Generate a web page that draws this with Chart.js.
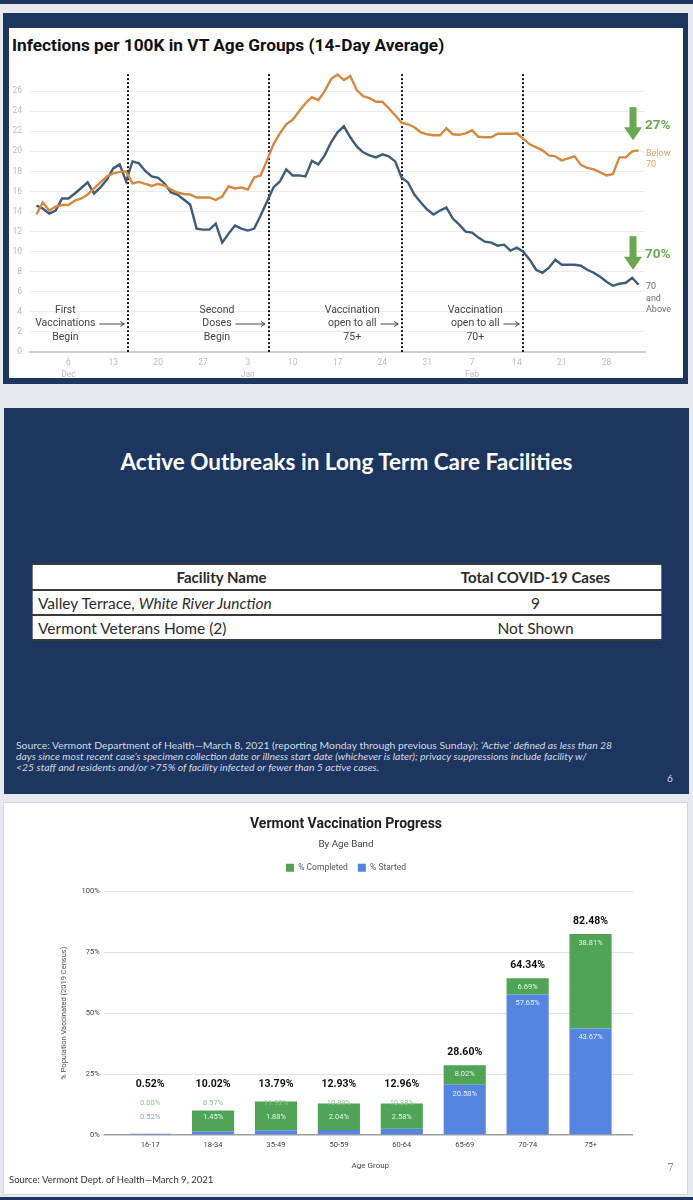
<!DOCTYPE html>
<html>
<head>
<meta charset="utf-8">
<script src="https://cdn.jsdelivr.net/npm/chart.js@4.4.0/dist/chart.umd.min.js"></script>
<style>
  html, body { margin: 0; padding: 0; }
  body { width: 693px; height: 1200px; background: #e7e9ee; position: relative; overflow: hidden; font-family: Roboto, "Noto Sans", sans-serif; }
  .navy { background: #1c365f; }
  #stripTop { position: absolute; left: 0; top: 0; width: 693px; height: 4px; }
  #stripBottom { position: absolute; left: 0; top: 1197px; width: 693px; height: 3px; }

  /* slide 1 - infections line chart */
  #panel1 { position: absolute; left: 3px; top: 13px; width: 685px; height: 371px; }
  #panel1 .inner { position: absolute; left: 6px; top: 15px; width: 674px; height: 350px; background: #fff; }
  #infTitle { position: absolute; left: 3px; top: 6px; font: bold 17.3px Roboto, sans-serif; color: #111; line-height: 22px; white-space: nowrap; }
  #infChart { position: absolute; left: 0; top: 30px; }

  /* slide 2 - outbreak table */
  #panel2 { position: absolute; left: 4px; top: 408px; width: 685px; height: 386px; color: #fff; font-family: Lato, "Open Sans", sans-serif; }
  #p2Title { position: absolute; left: 0; width: 685px; top: 41px; text-align: center; font-weight: bold; font-size: 22.5px; line-height: 26px; }
  #ltc { position: absolute; left: 28px; top: 155px; width: 630px; border-collapse: collapse; background: #fff; color: #2b2b2b; font-size: 15.5px; }
  #ltc th, #ltc td { border-top: 2px solid #3a3a3a; border-bottom: 2px solid #3a3a3a; padding: 0; height: 23px; }
  #ltc th { font-weight: bold; font-size: 15px; text-align: center; height: 24px; }
  #ltc tr > :first-child { border-left: 1px solid #777; width: 372px; }
  #ltc tr > :last-child { border-right: 1px solid #777; text-align: center; }
  #ltc td.name { text-align: left; padding-left: 5px; }
  #p2Source { position: absolute; left: 12px; top: 332px; font-size: 10.4px; line-height: 11px; color: #d3d9e4; white-space: nowrap; }
  #p2Num { position: absolute; left: 663px; top: 364px; font-size: 10px; color: #d3d9e4; }

  /* slide 3 - vaccination bars */
  #panel3 { position: absolute; left: 3px; top: 802px; width: 683px; height: 391px; background: #fff; border: 1px solid #d6d8dc; }
  #vaxChart { position: absolute; left: 5px; top: 3px; }
  #p3Source { position: absolute; left: 5px; top: 371px; font: 9.5px Lato, sans-serif; color: #333; white-space: nowrap; }
  #p3Num { position: absolute; left: 663px; top: 358px; font: 11px "DejaVu Serif", serif; color: #888; }
</style>
</head>
<body>
<div id="stripTop" class="navy"></div>

<div id="panel1" class="navy">
  <div class="inner">
    <div id="infTitle">Infections per 100K in VT Age Groups (14-Day Average)</div>
    <canvas id="infChart" width="674" height="324"></canvas>
  </div>
</div>

<div id="panel2" class="navy">
  <div id="p2Title">Active Outbreaks in Long Term Care Facilities</div>
  <table id="ltc">
    <tr><th>Facility Name</th><th>Total COVID-19 Cases</th></tr>
    <tr><td class="name">Valley Terrace, <i>White River Junction</i></td><td>9</td></tr>
    <tr><td class="name">Vermont Veterans Home (2)</td><td>Not Shown</td></tr>
  </table>
  <div id="p2Source">Source: Vermont Department of Health—March 8, 2021 (reporting Monday through previous Sunday); <i>‘Active’ defined as less than 28</i><br><i>days since most recent case’s specimen collection date or illness start date (whichever is later); privacy suppressions include facility w/</i><br><i>&lt;25 staff and residents and/or &gt;75% of facility infected or fewer than 5 active cases.</i></div>
  <div id="p2Num">6</div>
</div>

<div id="panel3">
  <canvas id="vaxChart" width="674" height="369"></canvas>
  <div id="p3Source">Source: Vermont Dept. of Health—March 9, 2021</div>
  <div id="p3Num">7</div>
</div>

<div id="stripBottom" class="navy"></div>

<script>
// ---- Infections per 100K, daily from Dec 1 2020 (index 0) to Mar 5 2021 (index 94)
const below70 = [
  13.7, 14.9, 14.1, 14.5, 14.65, 14.65, 15.1, 15.3, 15.7, 16.3,
  16.9, 17.5, 17.8, 17.95, 18.0, 16.8, 16.95, 16.75, 16.55, 16.75,
  16.6, 16.2, 15.9, 15.75, 15.7, 15.4, 15.4, 15.4, 15.15, 15.5,
  16.5, 16.3, 16.4, 16.2, 17.4, 17.6, 19.1, 20.7, 21.8, 22.7,
  23.15, 24.0, 24.8, 25.4, 25.1, 26.0, 27.2, 27.65, 27.1, 27.5,
  26.1, 25.5, 25.3, 24.95, 24.95, 24.3, 23.6, 22.85, 22.7, 22.4,
  21.9, 21.7, 21.6, 21.6, 22.3, 21.7, 21.65, 21.8, 22.1, 21.45,
  21.4, 21.4, 21.75, 21.75, 21.75, 21.8, 21.25, 20.7, 20.4, 20.1,
  19.6, 19.5, 19.1, 19.3, 19.5, 18.65, 18.35, 18.2, 17.9, 17.6,
  17.75, 19.4, 19.4, 20.0, 20.1
];
const above70 = [
  14.6, 14.3, 13.8, 14.1, 15.3, 15.3, 15.8, 16.35, 16.9, 15.8,
  16.4, 17.2, 18.3, 18.7, 17.0, 19.0, 18.8, 18.05, 17.5, 17.35,
  16.8, 15.9, 15.7, 15.2, 14.7, 12.3, 12.2, 12.2, 12.8, 10.9,
  11.8, 12.6, 12.3, 12.1, 12.3, 13.6, 15.0, 16.4, 17.0, 18.2,
  17.6, 17.6, 17.5, 19.05, 18.7, 19.6, 20.9, 21.9, 22.5, 21.4,
  20.5, 19.9, 19.6, 19.4, 19.7, 19.5, 19.0, 17.4, 16.9, 15.7,
  14.9, 14.2, 13.7, 14.1, 14.4, 13.3, 12.7, 12.0, 11.9, 11.4,
  11.0, 10.9, 10.6, 10.7, 10.1, 10.4, 10.0, 9.2, 8.2, 7.9,
  8.4, 9.2, 8.7, 8.7, 8.7, 8.6, 8.2, 7.9, 7.5, 7.0,
  6.6, 6.8, 6.9, 7.4, 6.7
];
// Sundays shown on the x axis (day index) and their labels
const tickDay = [5, 12, 19, 26, 33, 40, 47, 54, 61, 68, 75, 82, 89];
const tickText = [['6', 'Dec'], ['13'], ['20'], ['27'], ['3', 'Jan'], ['10'], ['17'], ['24'], ['31'], ['7', 'Feb'], ['14'], ['21'], ['28']];
// vaccination milestones (day index) and their notes
const eventDays = [14.35, 36.3, 57.1, 76.0];
const eventText = [
  ['First', 'Vaccinations', 'Begin'],
  ['Second', 'Doses', 'Begin'],
  ['Vaccination', 'open to all', '75+'],
  ['Vaccination', 'open to all', '70+']
];
const dropText = ['27%', '70%'];

// ---- Vermont vaccination progress by age band
const ageGroups = ['16-17', '18-34', '35-49', '50-59', '60-64', '65-69', '70-74', '75+'];
const pctStarted = [0.52, 1.45, 1.88, 2.04, 2.58, 20.58, 57.65, 43.67];
const pctCompleted = [0.00, 8.57, 11.92, 10.89, 10.38, 8.02, 6.69, 38.81];
const pctTotal = [0.52, 10.02, 13.79, 12.93, 12.96, 28.60, 64.34, 82.48];

const ORANGE = '#d4893f';
const SLATE = '#3e5c78';
const ARROW_GREEN = '#6aa84f';

// notes, milestone lines and end labels for the line chart
const lineNotes = {
    id: 'lineNotes',
    beforeDatasetsDraw(chart) {
        const { ctx, chartArea, scales: { x, y } } = chart;
        ctx.save();
        ctx.strokeStyle = '#1a1a1a';
        ctx.lineWidth = 2;
        ctx.setLineDash([2, 2]);
        eventDays.forEach(d => {
            const px = Math.round(x.getPixelForValue(d));
            ctx.beginPath();
            ctx.moveTo(px, y.getPixelForValue(27.7));
            ctx.lineTo(px, chartArea.bottom);
            ctx.stroke();
        });
        ctx.restore();
    },
    afterDatasetsDraw(chart) {
        const { ctx, chartArea, scales: { x, y } } = chart;
        const shift = [-63, -52, -50, -48];
        ctx.save();
        ctx.font = '10.5px Roboto';
        ctx.fillStyle = '#444';
        ctx.textAlign = 'center';
        ctx.textBaseline = 'middle';
        eventDays.forEach((d, i) => {
            const lx = x.getPixelForValue(d);
            const cx = lx + shift[i];
            const rows = [chartArea.bottom - 42, chartArea.bottom - 28.5, chartArea.bottom - 15];
            eventText[i].forEach((t, r) => ctx.fillText(t, cx, rows[r]));
            // arrow pointing to the milestone line
            const start = cx + ctx.measureText(eventText[i][1]).width / 2 + 4;
            const end = lx - 4;
            const ay = rows[1] + 0.5;
            ctx.strokeStyle = '#444';
            ctx.lineWidth = 1;
            ctx.beginPath();
            ctx.moveTo(start, ay);
            ctx.lineTo(end, ay);
            ctx.moveTo(end - 4, ay - 2.5);
            ctx.lineTo(end, ay);
            ctx.lineTo(end - 4, ay + 2.5);
            ctx.stroke();
        });

        // green drop arrows
        const ax = chartArea.right - 12;
        const drops = [[24.4, 22.4, 21.1, 22.6], [11.55, 9.5, 8.2, 9.7]];
        drops.forEach((a, i) => {
            const top = y.getPixelForValue(a[0]);
            const base = y.getPixelForValue(a[1]);
            const tip = y.getPixelForValue(a[2]);
            ctx.fillStyle = ARROW_GREEN;
            ctx.fillRect(ax - 3.5, top, 7, base - top + 1);
            ctx.beginPath();
            ctx.moveTo(ax - 9, base);
            ctx.lineTo(ax + 9, base);
            ctx.lineTo(ax, tip);
            ctx.closePath();
            ctx.fill();
            ctx.font = 'bold 13.5px Roboto';
            ctx.textAlign = 'left';
            ctx.fillText(dropText[i], chartArea.right, y.getPixelForValue(a[3]));
        });

        // series end labels
        ctx.font = '9px Roboto';
        ctx.fillStyle = '#dca273';
        ctx.fillText('Below', chartArea.right + 1, y.getPixelForValue(19.8));
        ctx.fillText('70', chartArea.right + 1, y.getPixelForValue(18.7));
        ctx.fillStyle = '#5f6f85';
        ctx.fillText('70', chartArea.right + 1, y.getPixelForValue(6.5));
        ctx.fillText('and', chartArea.right + 1, y.getPixelForValue(5.35));
        ctx.fillText('Above', chartArea.right + 1, y.getPixelForValue(4.2));
        ctx.restore();
    }
};

new Chart(document.getElementById('infChart'), {
    type: 'line',
    data: {
        datasets: [
            {
                label: 'Below 70',
                data: below70.map((v, i) => ({ x: i, y: v })),
                borderColor: ORANGE,
                borderWidth: 2.4,
                pointRadius: 0,
                tension: 0
            },
            {
                label: '70 and Above',
                data: above70.map((v, i) => ({ x: i, y: v })),
                borderColor: SLATE,
                borderWidth: 2.4,
                pointRadius: 0,
                tension: 0
            }
        ]
    },
    options: {
        responsive: false,
        animation: false,
        layout: { padding: { top: 8.4, right: 38, left: 0, bottom: 0 } },
        plugins: {
            legend: { display: false },
            tooltip: { enabled: false }
        },
        scales: {
            x: {
                type: 'linear',
                min: -1,
                max: 95,
                afterBuildTicks: s => { s.ticks = tickDay.map(v => ({ value: v })); },
                afterFit: s => { s.height = 30; },
                grid: { display: true, drawOnChartArea: false, drawTicks: false },
                border: { color: '#cfcfcf', width: 2 },
                ticks: {
                    padding: 5,
                    autoSkip: false,
                    maxRotation: 0,
                    color: '#bdbdbd',
                    font: { family: 'Roboto', size: 8.5, lineHeight: 1.4 },
                    callback: v => tickText[tickDay.indexOf(v)]
                }
            },
            y: {
                min: 0,
                max: 28,
                afterFit: s => { s.width = 21; },
                grid: {
                    drawTicks: false,
                    color: c => c.tick.value === 28 ? 'rgba(0,0,0,0)' : '#ececec'
                },
                border: { display: false },
                ticks: {
                    stepSize: 2,
                    padding: 8,
                    color: '#bdbdbd',
                    font: { family: 'Roboto', size: 8.5 },
                    callback: v => v === 28 ? '' : v
                }
            }
        }
    },
    plugins: [lineNotes]
});

// segment and total labels for the stacked bars
const barLabels = {
    id: 'barLabels',
    afterDatasetsDraw(chart) {
        const { ctx } = chart;
        const started = chart.getDatasetMeta(0).data;
        const completed = chart.getDatasetMeta(1).data;
        ctx.save();
        ctx.textAlign = 'center';
        ctx.textBaseline = 'middle';
        started.forEach((sBar, i) => {
            const cBar = completed[i];
            const base = sBar.base;
            const top = Math.min(sBar.y, cBar.y);
            const small = (sBar.base - sBar.y) < 12;
            let sy, cy, ty;
            if (small) {
                sy = base - 17;
                cy = base - 31;
                ty = base - 50;
            } else {
                sy = sBar.y + 9;
                cy = cBar.y + 9;
                ty = top - 12.5;
            }
            ctx.font = '7.5px Roboto';
            ctx.fillStyle = sy > top + 3 ? 'rgba(255,255,255,0.88)' : '#84a3e6';
            ctx.fillText(pctStarted[i].toFixed(2) + '%', sBar.x, sy);
            ctx.fillStyle = cy > top + 3 ? 'rgba(255,255,255,0.88)' : '#8cc791';
            ctx.fillText(pctCompleted[i].toFixed(2) + '%', cBar.x, cy);
            ctx.font = 'bold 10.5px Roboto';
            ctx.fillStyle = '#111';
            ctx.fillText(pctTotal[i].toFixed(2) + '%', sBar.x, ty);
        });
        ctx.restore();
    }
};

new Chart(document.getElementById('vaxChart'), {
    type: 'bar',
    data: {
        labels: ageGroups,
        datasets: [
            {
                label: '% Started',
                data: pctStarted,
                backgroundColor: '#5585e0',
                barPercentage: 0.67,
                categoryPercentage: 1
            },
            {
                label: '% Completed',
                data: pctCompleted,
                backgroundColor: '#50a456',
                barPercentage: 0.67,
                categoryPercentage: 1
            }
        ]
    },
    options: {
        responsive: false,
        animation: false,
        layout: { padding: { left: 0, right: 0, top: 0, bottom: 0 } },
        plugins: {
            title: {
                display: true,
                text: 'Vermont Vaccination Progress',
                color: '#222',
                font: { family: 'Roboto', size: 14, weight: 'bold' },
                padding: { top: 10, bottom: 5.5 }
            },
            subtitle: {
                display: true,
                text: 'By Age Band',
                color: '#444',
                font: { family: 'Roboto', size: 9.8 },
                padding: { top: 0, bottom: 3.5 }
            },
            legend: {
                reverse: true,
                labels: {
                    boxWidth: 8,
                    boxHeight: 8,
                    padding: 10,
                    color: '#555',
                    font: { family: 'Roboto', size: 8.5 }
                }
            },
            tooltip: { enabled: false }
        },
        scales: {
            x: {
                stacked: true,
                grid: { display: false, drawTicks: false },
                border: { display: false },
                afterFit: s => { s.height = 40; },
                ticks: { padding: 6, color: '#444', font: { family: 'Roboto', size: 7.5 } },
                title: {
                    display: true,
                    text: 'Age Group',
                    color: '#444',
                    font: { family: 'Roboto', size: 8 },
                    padding: { top: 0, bottom: 4 }
                }
            },
            xTop: {
                position: 'top',
                grid: { display: false },
                border: { display: false },
                ticks: { display: false },
                afterFit: s => { s.height = 9.3; }
            },
            y: {
                stacked: true,
                min: 0,
                max: 100,
                afterFit: s => { s.width = 109.7; },
                grid: {
                    tickLength: 15,
                    color: c => c.tick.value === 0 ? '#9e9e9e' : '#e3e3e3',
                    lineWidth: c => c.tick.value === 0 ? 1.5 : 1
                },
                border: { display: false },
                ticks: {
                    stepSize: 25,
                    padding: 4,
                    color: '#444',
                    font: { family: 'Roboto', size: 7.5 },
                    callback: v => v + '%'
                },
                title: {
                    display: true,
                    text: '% Population Vaccinated (2019 Census)',
                    color: '#555',
                    font: { family: 'Roboto', size: 7.5 },
                    padding: { top: 50.5, bottom: 0 }
                }
            },
            yRight: {
                position: 'right',
                min: 0,
                max: 100,
                afterFit: s => { s.width = 61; },
                grid: {
                    drawOnChartArea: false,
                    tickLength: 11,
                    color: c => c.tick.value === 0 ? '#9e9e9e' : '#e3e3e3',
                    lineWidth: c => c.tick.value === 0 ? 1.5 : 1
                },
                border: { display: false },
                ticks: { stepSize: 25, display: false }
            }
        }
    },
    plugins: [barLabels]
});
</script>
</body>
</html>
